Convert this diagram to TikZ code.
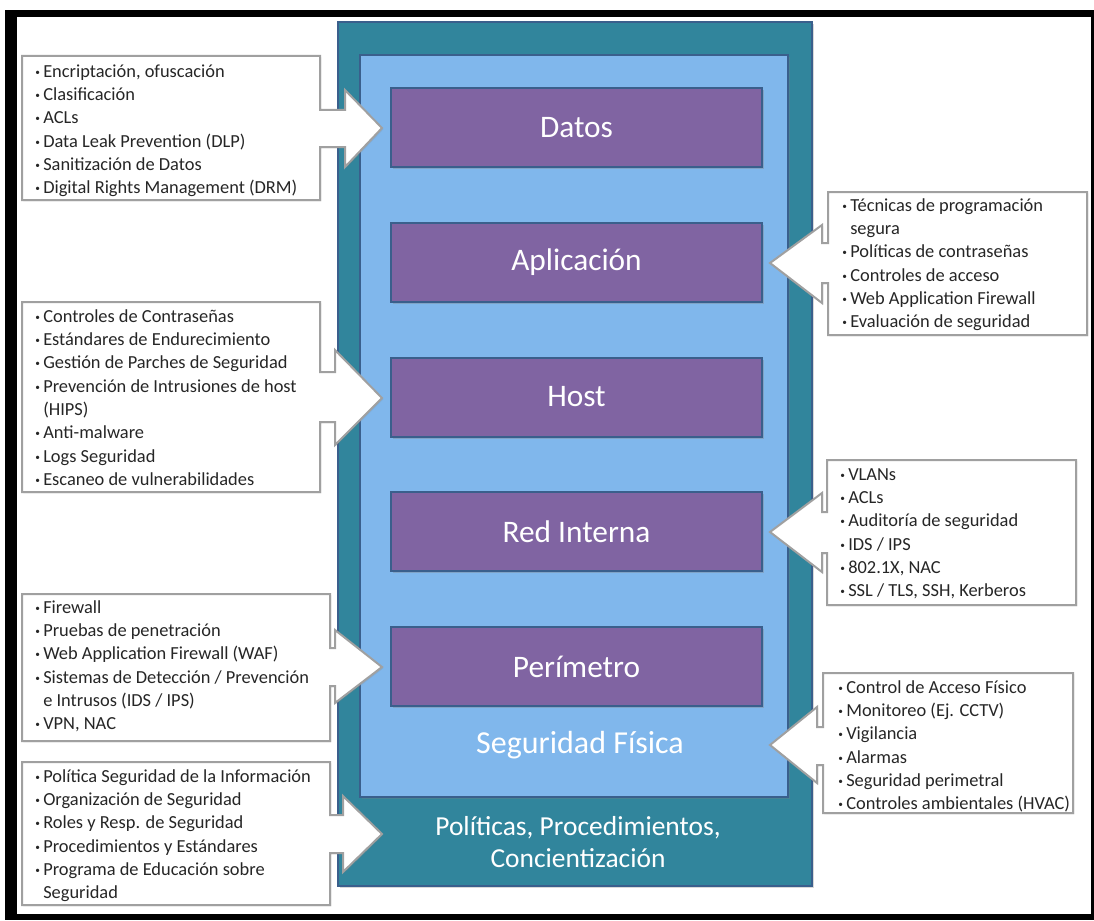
\documentclass[tikz,border=0pt]{standalone}
\usepackage{fontspec}
\setmainfont{Carlito}
\usetikzlibrary{shadows}
\definecolor{tealbg}{HTML}{31859C}
\definecolor{skyblue}{HTML}{80B7EC}
\definecolor{layerpurple}{HTML}{8064A2}
\definecolor{edgeblue}{HTML}{3A5F8C}
\definecolor{calloutgrey}{HTML}{A0A0A0}
\definecolor{listtext}{HTML}{262626}
\newcommand{\blt}{\rule{0pt}{10pt}\makebox[6pt][l]{\raisebox{0.25ex}{\fontsize{7}{7}\selectfont\textbullet}}}
\newcommand{\ind}{\rule{0pt}{10pt}\hspace*{6pt}}
\tikzset{
  layer/.style={draw=edgeblue, line width=1.5pt, fill=layerpurple, minimum width=278.25pt, minimum height=59.25pt,
    text=white, font=\fontsize{23.5}{26}\selectfont,
    drop shadow={shadow xshift=1.5pt, shadow yshift=-1.5pt, opacity=0.35}},
  frame/.style={draw=edgeblue, line width=1.5pt, drop shadow={shadow xshift=1.5pt, shadow yshift=-1.5pt, opacity=0.3}},
  callout/.style={draw=calloutgrey, line width=1.5pt, fill=white, drop shadow={shadow xshift=1pt, shadow yshift=-1pt, opacity=0.2}},
  bullets/.style={anchor=north west, inner sep=0pt, align=left, text=listtext, font=\fontsize{13.8}{17.5}\selectfont},
  title/.style={text=white, inner sep=0pt, align=center, font=\fontsize{20.6}{24}\selectfont},
}
\begin{document}
\begin{tikzpicture}[x=0.75pt, y=-0.75pt]
  \useasboundingbox (0,0) rectangle (1094,920);
  % frame
  \fill[white] (0,0) rectangle (1094,920);
  \fill[black] (5,10) rectangle (1094,920);
  \fill[white] (17,17) rectangle (1091,914);

  % layers
  \draw[frame, fill=tealbg] (338,22) rectangle (812,886);
  \draw[frame, fill=skyblue] (360,55) rectangle (788,797);
  \foreach \name/\label [count=\i from 0] in {datos/Datos, app/Aplicación, host/Host, red/Red Interna, perim/Perímetro}
    \node[layer] (\name) at (576.5, 127.5+134.75*\i) {\label};
  \node[title, font=\fontsize{24}{26}\selectfont] (fisica) at (580,745) {Seguridad Física};
  \node[title] (politicas) at (578,842) {Políticas, Procedimientos,\\Concientización};

  % callouts, left side
  \draw[callout] (22,56) -- (320,56) -- (320,110) -- (345,110) -- (345,90) -- (382,128) -- (345,167) -- (345,147) -- (320,147) -- (320,200) -- (22,200) -- cycle;
  \draw[callout] (22,302) -- (320,302) -- (320,372) -- (335,372) -- (335,350) -- (382,398) -- (335,445) -- (335,422) -- (320,422) -- (320,492) -- (22,492) -- cycle;
  \draw[callout] (22,594) -- (330,594) -- (330,648) -- (335,648) -- (335,630) -- (382,667) -- (335,703) -- (335,686) -- (330,686) -- (330,741) -- (22,741) -- cycle;
  \draw[callout] (22,762) -- (330,762) -- (330,815) -- (343,815) -- (343,796) -- (382,834) -- (343,872) -- (343,853) -- (330,853) -- (330,905) -- (22,905) -- cycle;
  % callouts, right side
  \draw[callout] (1087,192) -- (828,192) -- (828,243) -- (822,243) -- (822,225) -- (770,263) -- (822,303) -- (822,283) -- (828,283) -- (828,335) -- (1087,335) -- cycle;
  \draw[callout] (1076,460) -- (827,460) -- (827,512) -- (822,512) -- (822,493) -- (770,532) -- (822,572) -- (822,553) -- (827,553) -- (827,605) -- (1076,605) -- cycle;
  \draw[callout] (1073,673) -- (823,673) -- (823,727) -- (817,727) -- (817,707) -- (770,745) -- (817,783) -- (817,765) -- (823,765) -- (823,813) -- (1073,813) -- cycle;

  % lists
  \node[bullets] (ldatos) at (35,63.7) {\blt Encriptación, ofuscación\\ \blt Clasificación\\ \blt ACLs\\ \blt Data Leak Prevention (DLP)\\ \blt Sanitización de Datos\\ \blt Digital Rights Management (DRM)};
  \node[bullets] (lapp) at (842,197.7) {\blt Técnicas de programación\\ \ind segura\\ \blt Políticas de contraseñas\\ \blt Controles de acceso\\ \blt Web Application Firewall\\ \blt Evaluación de seguridad};
  \node[bullets] (lhost) at (35,308.7) {\blt Controles de Contraseñas\\ \blt Estándares de Endurecimiento\\ \blt Gestión de Parches de Seguridad\\ \blt Prevención de Intrusiones de host\\ \ind (HIPS)\\ \blt Anti-malware\\ \blt Logs Seguridad\\ \blt Escaneo de vulnerabilidades};
  \node[bullets] (lred) at (840,466.7) {\blt VLANs\\ \blt ACLs\\ \blt Auditoría de seguridad\\ \blt IDS / IPS\\ \blt 802.1X, NAC\\ \blt SSL / TLS, SSH, Kerberos};
  \node[bullets] (lperim) at (35,599.7) {\blt Firewall\\ \blt Pruebas de penetración\\ \blt Web Application Firewall (WAF)\\ \blt Sistemas de Detección / Prevención\\ \ind e Intrusos (IDS / IPS)\\ \blt VPN, NAC};
  \node[bullets] (lfisica) at (838,679.7) {\blt Control de Acceso Físico\\ \blt Monitoreo (Ej. CCTV)\\ \blt Vigilancia\\ \blt Alarmas\\ \blt Seguridad perimetral\\ \blt Controles ambientales (HVAC)};
  \node[bullets] (lpoliticas) at (35,768.7) {\blt Política Seguridad de la Información\\ \blt Organización de Seguridad\\ \blt Roles y Resp. de Seguridad\\ \blt Procedimientos y Estándares\\ \blt Programa de Educación sobre\\ \ind Seguridad};
\end{tikzpicture}
\end{document}
